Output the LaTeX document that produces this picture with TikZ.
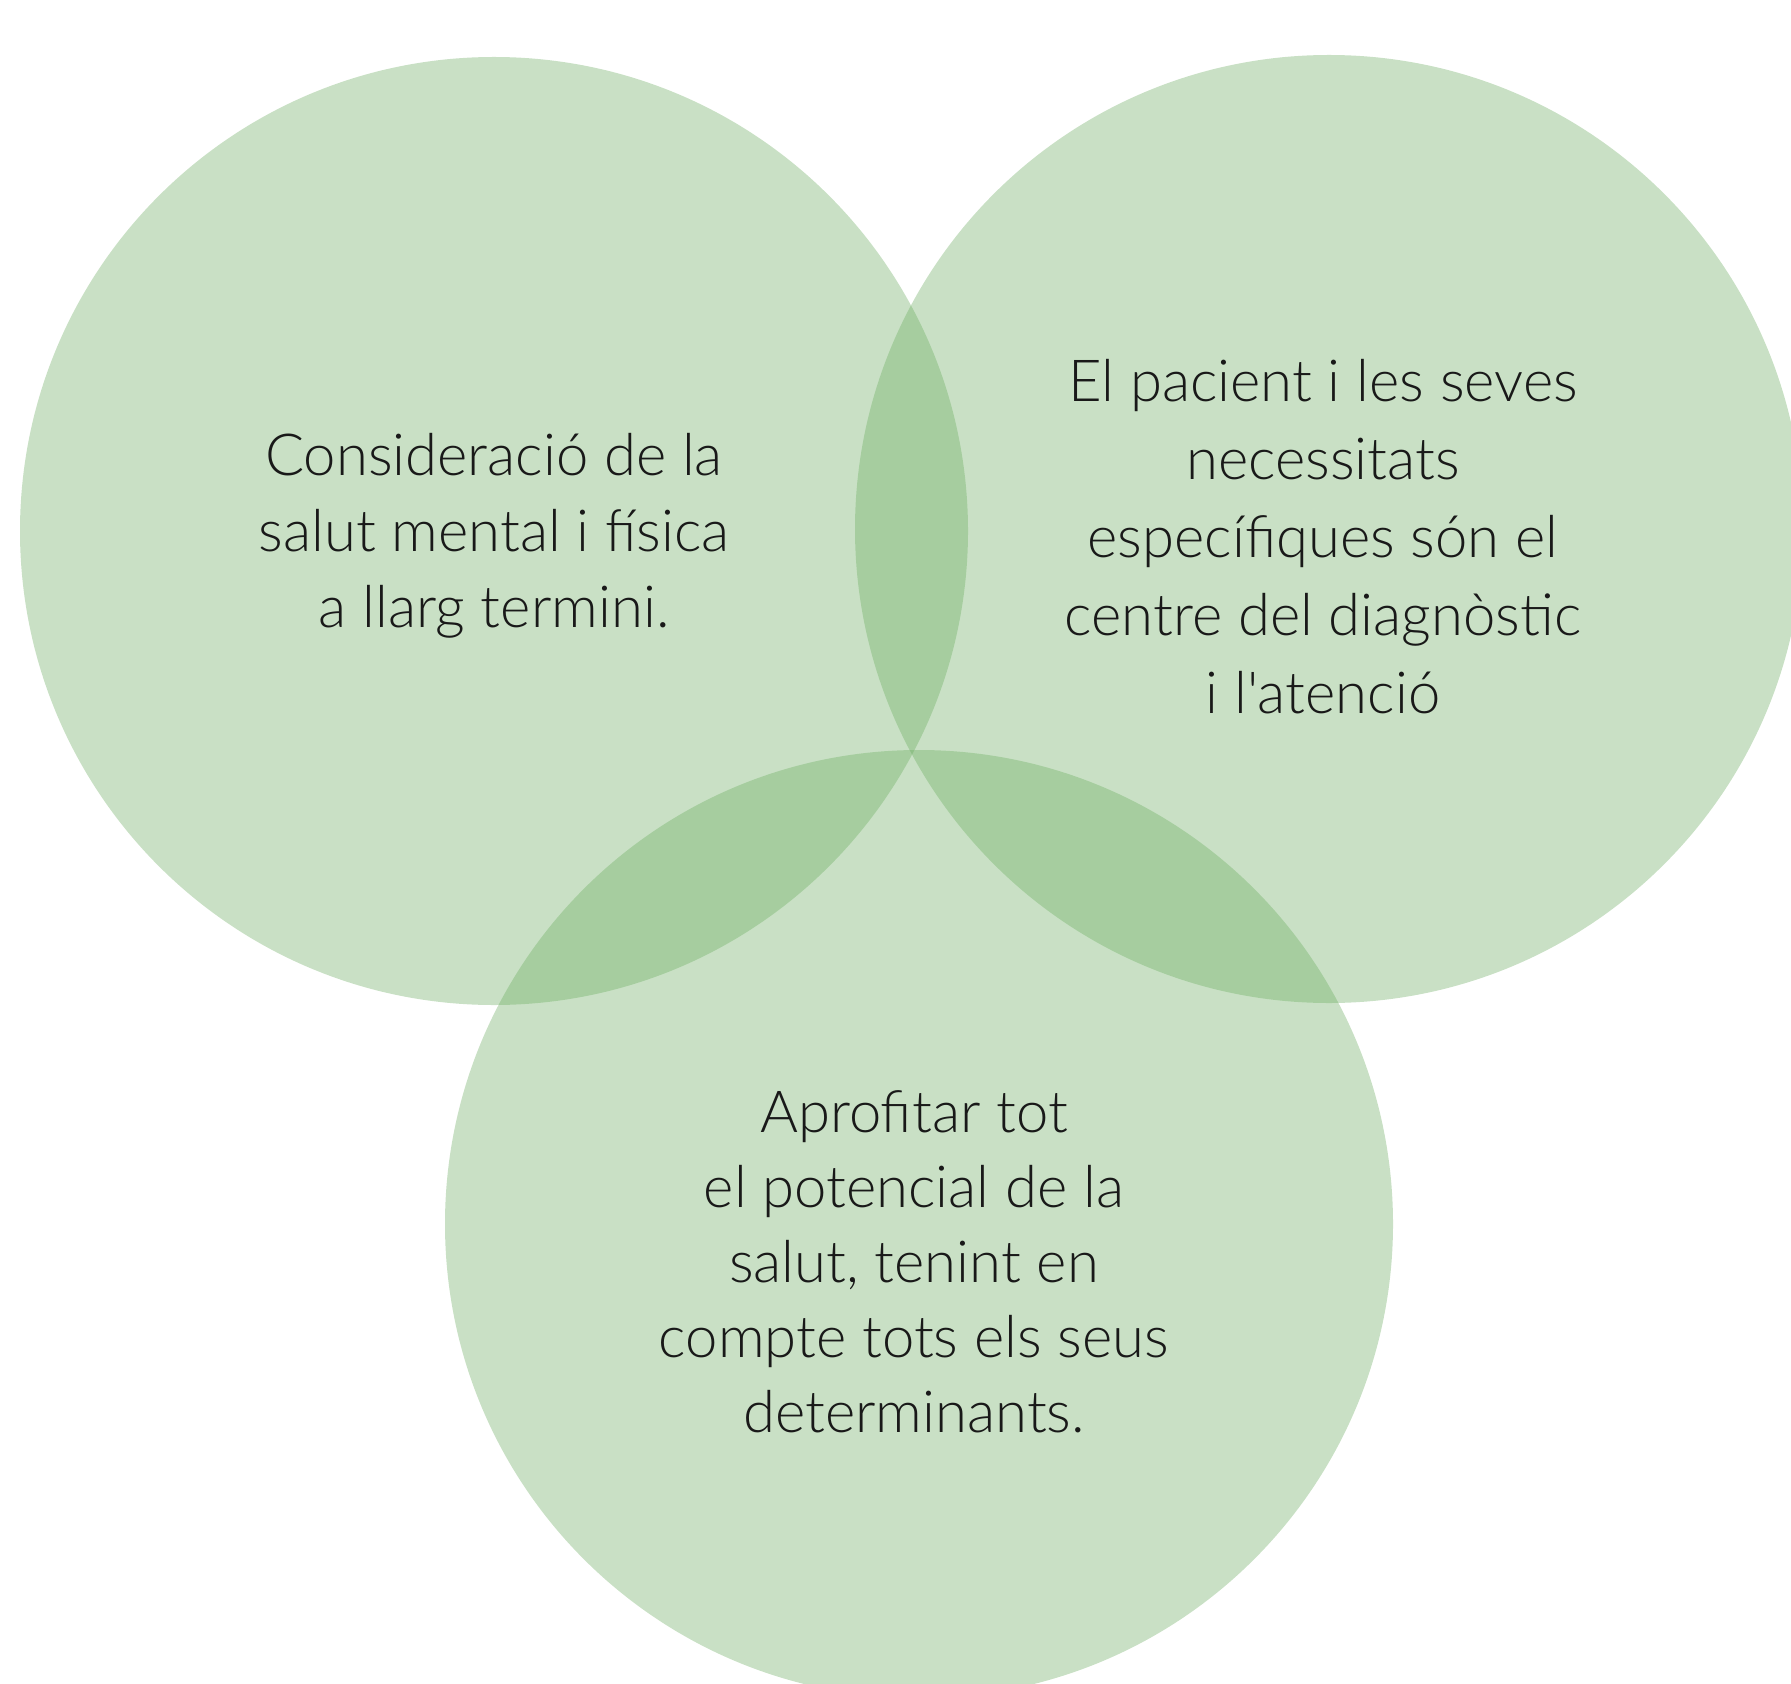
\documentclass[tikz,border=0pt]{standalone}
\usepackage{fontspec}
\setmainfont{Lato Light}[Ligatures=TeXOff]
\usetikzlibrary{positioning}

\definecolor{leafgreen}{RGB}{104,170,93}

\begin{document}
\begin{tikzpicture}[
    x=0.5pt, y=-0.5pt,
    area/.style={
        circle,
        fill=leafgreen,
        fill opacity=0.36,
        minimum size=474pt,
        inner sep=0pt,
    },
    caption/.style={
        align=center,
        font=\fontsize{29}{39}\selectfont,
        text=black!90,
    }
]
    \useasboundingbox (0,0) rectangle (1791,1684);
    \clip (0,0) rectangle (1791,1684);

    % Circles
    \node[area] (mind) at (494,531) {};
    \node[area] (person) at (1329,529) {};
    \node[area] (whole) at (919,1224) {};

    % Texts
    \node[caption, font=\fontsize{29}{38}\selectfont] (mindtext) at (494,536) {Consideració de la\\salut mental i física\\a llarg termini.};
    \node[caption] (persontext) at (1323,537) {El pacient i les seves\\necessitats\\específiques són el\\centre del diagnòstic\\i l'atenció};
    \node[caption, font=\fontsize{29}{37.5}\selectfont] (wholetext) at (914,1262) {Aprofitar tot\\el potencial de la\\salut, tenint en\\compte tots els seus\\determinants.};
\end{tikzpicture}
\end{document}
